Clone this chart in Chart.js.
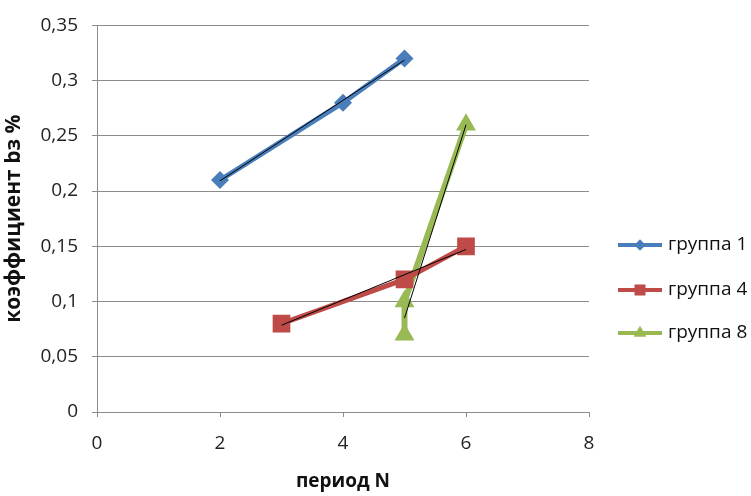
<!DOCTYPE html>
<html>
<head>
<meta charset="utf-8">
<script src="https://cdn.jsdelivr.net/npm/chart.js@4.4.0/dist/chart.umd.min.js"></script>
<style>
  html, body { margin: 0; padding: 0; background: #fff; }
  #wrap { width: 751px; height: 496px; position: relative; }
</style>
</head>
<body>
<div id="wrap"><canvas id="chart"></canvas></div>
<script>
// Data
const seriesNames = ['группа 1', 'группа 4', 'группа 8'];
const group1X = [2, 4, 5];
const group1Y = [0.21, 0.28, 0.32];
const group4X = [3, 5, 6];
const group4Y = [0.08, 0.12, 0.15];
const group8X = [5, 5, 6];
const group8Y = [0.07, 0.1, 0.26];
const xTicks = [0, 2, 4, 6, 8];
const yTicks = [0, 0.05, 0.1, 0.15, 0.2, 0.25, 0.3, 0.35];

const colors = ['#4A7EBB', '#BE4B48', '#98B954'];
const markers = ['rectRot', 'rect', 'triangle'];
const markerSize = [9, 12.5, 11.5];
const legendMarkerSize = [5.5, 7.5, 7];

function toPoints(xs, ys) {
    return xs.map((x, i) => ({ x: x, y: ys[i] }));
}

// linear trendline (least squares), like the spreadsheet one
function trend(xs, ys) {
    const n = xs.length;
    const mx = xs.reduce((a, b) => a + b, 0) / n;
    const my = ys.reduce((a, b) => a + b, 0) / n;
    let sxy = 0, sxx = 0;
    for (let i = 0; i < n; i++) {
        sxy += (xs[i] - mx) * (ys[i] - my);
        sxx += (xs[i] - mx) * (xs[i] - mx);
    }
    const k = sxy / sxx;
    const x0 = Math.min(...xs), x1 = Math.max(...xs);
    return [{ x: x0, y: my + k * (x0 - mx) }, { x: x1, y: my + k * (x1 - mx) }];
}

const groups = [[group1X, group1Y], [group4X, group4Y], [group8X, group8Y]];

const datasets = [];
groups.forEach((g, i) => {
    datasets.push({
        label: seriesNames[i],
        data: toPoints(g[0], g[1]),
        borderColor: colors[i],
        backgroundColor: colors[i],
        borderWidth: i === 2 ? 6 : 5,
        pointStyle: markers[i],
        pointRadius: markerSize[i],
        pointBorderWidth: 0,
        showLine: true,
        tension: 0,
        order: 2
    });
});
groups.forEach((g, i) => {
    datasets.push({
        label: 'trend' + i,
        data: trend(g[0], g[1]),
        borderColor: '#000',
        borderWidth: 1,
        pointRadius: 0,
        showLine: true,
        order: 1
    });
});

const FONT = '"Open Sans", "Noto Sans", sans-serif';

// legend: line with marker in the middle, like the original
const sideLegend = {
    id: 'sideLegend',
    afterDraw(chart) {
        const c = chart.ctx;
        const rows = [245, 290, 333];
        c.save();
        for (let i = 0; i < 3; i++) {
            const y = rows[i];
            c.strokeStyle = colors[i];
            c.lineWidth = 4;
            c.beginPath();
            c.moveTo(618, y);
            c.lineTo(662, y);
            c.stroke();
            c.fillStyle = colors[i];
            Chart.helpers.drawPoint(c, {
                pointStyle: markers[i],
                radius: legendMarkerSize[i],
                borderWidth: 0
            }, 640, y);
            c.fill();
            c.fillStyle = '#111';
            c.font = '19px ' + FONT;
            c.textBaseline = 'middle';
            c.fillText(seriesNames[i], 668, y);
        }
        c.restore();
    }
};

const ctx = document.getElementById('chart').getContext('2d');
new Chart(ctx, {
    type: 'scatter',
    data: { datasets: datasets },
    options: {
        responsive: true,
        maintainAspectRatio: false,
        animation: false,
        layout: { padding: { top: 25, right: 162, left: 0, bottom: 0 } },
        plugins: {
            legend: { display: false },
            tooltip: { enabled: false }
        },
        scales: {
            x: {
                type: 'linear',
                min: 0,
                max: 8,
                afterBuildTicks: s => { s.ticks = xTicks.map(v => ({ value: v })); },
                afterFit: s => { s.height = 84; },
                grid: { display: true, drawOnChartArea: false, color: '#8c8c8c', tickLength: 5 },
                border: { color: '#8c8c8c', width: 1 },
                ticks: { color: '#222', font: { family: FONT, size: 19 }, padding: 15 },
                title: {
                    display: true,
                    text: 'период N',
                    color: '#111',
                    font: { family: FONT, size: 19, weight: 'bold' },
                    padding: { top: 4, bottom: 3 }
                }
            },
            y: {
                min: 0,
                max: 0.35,
                afterBuildTicks: s => { s.ticks = yTicks.map(v => ({ value: v })); },
                afterFit: s => { s.width = 97; },
                grid: { color: '#8c8c8c', tickLength: 5 },
                border: { color: '#8c8c8c', width: 1 },
                ticks: {
                    color: '#222',
                    font: { family: FONT, size: 19 },
                    padding: 14,
                    callback: v => String(Math.round(v * 100) / 100).replace('.', ',')
                },
                title: {
                    display: true,
                    text: 'коэффициент bз %',
                    color: '#111',
                    font: { family: FONT, size: 21, weight: 'bold' },
                    padding: { top: 1, bottom: 2 }
                }
            }
        }
    },
    plugins: [sideLegend]
});
</script>
</body>
</html>
